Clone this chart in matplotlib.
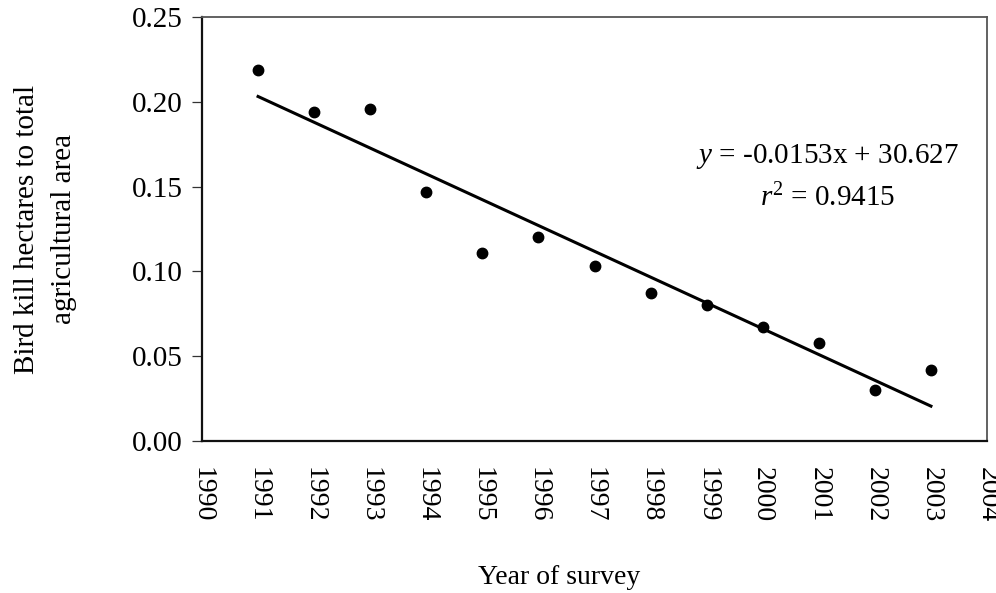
import numpy as np
import matplotlib
matplotlib.use("Agg")
import matplotlib.pyplot as plt

# Data
years = [1991, 1992, 1993, 1994, 1995, 1996, 1997, 1998, 1999, 2000, 2001, 2002, 2003]
ratio = [0.219, 0.194, 0.196, 0.147, 0.111, 0.120, 0.103, 0.087, 0.080, 0.067, 0.058, 0.030, 0.042]
x_ticks = list(range(1990, 2005))
y_ticks = [0.00, 0.05, 0.10, 0.15, 0.20, 0.25]
y_tick_labels = ["0.00", "0.05", "0.10", "0.15", "0.20", "0.25"]
marked_ticks = [1991, 1994]
equation_text = r"$y$ = -0.0153x + 30.627"
r2_text = r"$r^2$ = 0.9415"

plt.rcParams["font.family"] = ["Liberation Serif", "DejaVu Serif"]
plt.rcParams["mathtext.fontset"] = "custom"
plt.rcParams["mathtext.rm"] = "Liberation Serif"
plt.rcParams["mathtext.it"] = "Liberation Serif:italic"

fig = plt.figure(figsize=(9.96, 5.93), dpi=100)
ax = fig.add_axes([202/996, 1-441/593, (987-202)/996, (441-17)/593])

x = np.array(years, dtype=float)
y = np.array(ratio)
ax.plot(x, y, "o", color="black", markersize=7.5, zorder=3)
coef = np.polyfit(x, y, 1)
xf = np.array([years[0], years[-1]], dtype=float)
ax.plot(xf, np.polyval(coef, xf), color="black", linewidth=2.2, zorder=2)

ax.set_xlim(1990, 2004)
ax.set_ylim(0, 0.25)
ax.set_xticks(x_ticks)
ax.set_xticklabels([str(t) for t in x_ticks], rotation=270, fontsize=20)
ax.set_xticks(marked_ticks, minor=True)
ax.tick_params(axis="x", which="major", length=0, pad=19)
ax.tick_params(axis="x", which="minor", length=6.5, width=0.8, direction="out", color="#333333")
ax.set_yticks(y_ticks)
ax.set_yticklabels(y_tick_labels, fontsize=21)
ax.tick_params(axis="y", which="major", length=7, width=0.9, direction="out", pad=7, color="#333333")

for side in ["left", "bottom"]:
    ax.spines[side].set_linewidth(1.6)
    ax.spines[side].set_color("#111111")
for side in ["top", "right"]:
    ax.spines[side].set_linewidth(1.3)
    ax.spines[side].set_color("#555555")

ax.set_ylabel("Bird kill hectares to total\nagricultural area", fontsize=21, linespacing=1.55)
ax.yaxis.set_label_coords(-0.199, 0.5)
ax.yaxis.label.set_va("center")
ax.set_xlabel("Year of survey", fontsize=20)
ax.xaxis.set_label_coords(0.455, -0.322)
ax.xaxis.label.set_va("center")

ax.text(2001.15, 0.1675, equation_text, fontsize=21, ha="center", va="center")
ax.text(2001.15, 0.1435, r2_text, fontsize=21, ha="center", va="center")

fig.savefig("out.png", dpi=100)
